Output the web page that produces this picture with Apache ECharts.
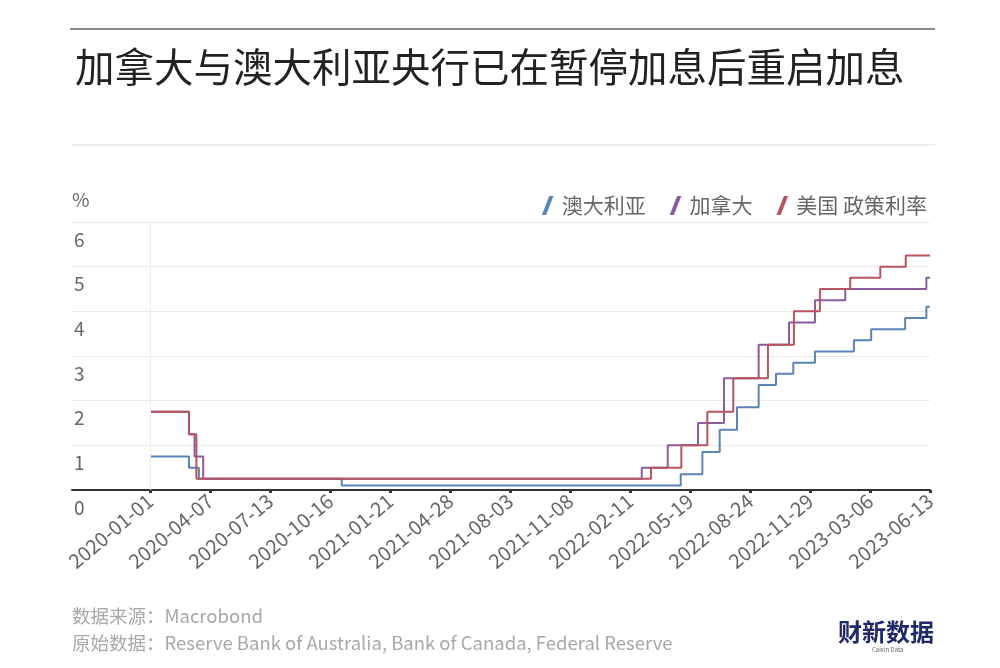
<!DOCTYPE html>
<html>
<head>
<meta charset="utf-8">
<script src="https://cdn.jsdelivr.net/npm/echarts@6/dist/echarts.min.js"></script>
<style>
html,body{margin:0;padding:0;background:#fff;}
#chart{width:1000px;height:668px;}
</style>
</head>
<body>
<div id="chart"></div>
<script>
// ---- data ----
const tickLabels = ['2020-01-01','2020-04-07','2020-07-13','2020-10-16','2021-01-21','2021-04-28','2021-08-03','2021-11-08','2022-02-11','2022-05-19','2022-08-24','2022-11-29','2023-03-06','2023-06-13'];
const yTicks = [0,1,2,3,4,5,6];
const seriesNames = ['澳大利亚','加拿大','美国 政策利率'];

const ausDates  = ['2020-01-01','2020-03-04','2020-03-20','2020-11-04','2022-05-04','2022-06-08','2022-07-06','2022-08-03','2022-09-07','2022-10-05','2022-11-02','2022-12-07','2023-02-08','2023-03-08','2023-05-03','2023-06-07','2023-06-13'];
const ausRates  = [0.75,0.5,0.25,0.1,0.35,0.85,1.35,1.85,2.35,2.6,2.85,3.1,3.35,3.6,3.85,4.1,4.1];

const canDates  = ['2020-01-01','2020-03-04','2020-03-13','2020-03-27','2022-03-02','2022-04-13','2022-06-01','2022-07-13','2022-09-07','2022-10-26','2022-12-07','2023-01-25','2023-06-07','2023-06-13'];
const canRates  = [1.75,1.25,0.75,0.25,0.5,1.0,1.5,2.5,3.25,3.75,4.25,4.5,4.75,4.75];

const usDates   = ['2020-01-01','2020-03-04','2020-03-16','2022-03-17','2022-05-05','2022-06-16','2022-07-28','2022-09-22','2022-11-03','2022-12-15','2023-02-02','2023-03-23','2023-05-04','2023-06-13'];
const usRates   = [1.75,1.25,0.25,0.5,1.0,1.75,2.5,3.25,4.0,4.5,4.75,5.0,5.25,5.25];

const colors = ['#5a83b6','#8a5c9e','#b7545e'];

// ---- map dates onto the tick-index scale ----
const tickTimes = tickLabels.map(d => Date.parse(d));
function dateToPos(d){
  const t = Date.parse(d);
  for (let k = 0; k < tickTimes.length - 1; k++) {
    if (t <= tickTimes[k+1]) return k + (t - tickTimes[k]) / (tickTimes[k+1] - tickTimes[k]);
  }
  return tickTimes.length - 1;
}
function build(dates, rates){ return dates.map((d,i) => [dateToPos(d), rates[i]]); }

const tickIdx = tickLabels.map((_,i) => i);
const legendIcon = 'path://M0,18 L4,18 L11,0 L7,0 Z';

const chart = echarts.init(document.getElementById('chart'), null, {renderer:'canvas'});
const baseFont = '"Noto Sans CJK SC","Noto Sans",sans-serif';

chart.setOption({
  backgroundColor:'#fff',
  animation:false,
  textStyle:{fontFamily:baseFont},
  title:{
    text:'加拿大与澳大利亚央行已在暂停加息后重启加息',
    left:70, top:42,
    textStyle:{fontSize:39.5, fontWeight:'normal', color:'#222', fontFamily:baseFont}
  },
  legend:{
    right:68, top:190,
    itemWidth:12, itemHeight:19, itemGap:24,
    icon:legendIcon,
    textStyle:{fontSize:21, color:'#666', fontFamily:baseFont, padding:[0,0,0,3]},
    data:seriesNames.map(n => ({name:n, icon:legendIcon}))
  },
  grid:{left:72, right:70, top:222, bottom:178, containLabel:false},
  xAxis:{
    type:'value',
    min:-1.3, max:13,
    axisLine:{show:true, lineStyle:{color:'#333', width:2}},
    axisTick:{show:true, customValues:tickIdx, length:3, lineStyle:{color:'#333', width:3}},
    axisLabel:{
      customValues:tickIdx,
      formatter:v => tickLabels[Math.round(v)],
      rotate:40, fontSize:20, color:'#666', margin:8, fontFamily:baseFont
    },
    splitLine:{show:false}
  },
  yAxis:{
    type:'value',
    min:0, max:6, interval:1,
    name:'%', nameLocation:'end', nameGap:13,
    nameTextStyle:{fontSize:19, color:'#666', align:'left', fontFamily:baseFont},
    axisLine:{show:false, onZero:false},
    axisTick:{show:false},
    axisLabel:{
      inside:true, margin:2, verticalAlign:'top', padding:[8,0,0,0],
      fontSize:19, color:'#666', fontFamily:baseFont,
      formatter:v => yTicks.includes(v) ? String(v) : ''
    },
    splitLine:{show:true, lineStyle:{color:'#ebebeb', width:1}}
  },
  series:[
    {
      name:seriesNames[0], type:'line', step:'end', showSymbol:false,
      data:build(ausDates, ausRates),
      lineStyle:{color:colors[0], width:2}, itemStyle:{color:colors[0]},
      markLine:{
        silent:true, symbol:'none', label:{show:false},
        lineStyle:{color:'#ececec', width:1, type:'solid'},
        data:[{xAxis:0}]
      }
    },
    {
      name:seriesNames[1], type:'line', step:'end', showSymbol:false,
      data:build(canDates, canRates),
      lineStyle:{color:colors[1], width:2}, itemStyle:{color:colors[1]}
    },
    {
      name:seriesNames[2], type:'line', step:'end', showSymbol:false,
      data:build(usDates, usRates),
      lineStyle:{color:colors[2], width:2}, itemStyle:{color:colors[2]}
    }
  ],
  graphic:[
    {type:'line', shape:{x1:70, y1:29, x2:935, y2:29}, style:{stroke:'#8a8a8a', lineWidth:2}},
    {type:'line', shape:{x1:72, y1:145, x2:935, y2:145}, style:{stroke:'#f0f0f0', lineWidth:2}},
    {type:'text', left:72, top:607, style:{text:'数据来源：Macrobond', fontSize:18.5, fill:'#a8a8a8', fontFamily:baseFont}},
    {type:'text', left:72, top:634, style:{text:'原始数据：Reserve Bank of Australia, Bank of Canada, Federal Reserve', fontSize:18.5, fill:'#a8a8a8', fontFamily:baseFont}},
    {type:'text', left:838, top:620, style:{text:'财新数据', fontSize:24, fontWeight:'bold', fill:'#1f2a66', fontFamily:baseFont}},
    {type:'text', left:872, top:647, style:{text:'Caixin Data', fontSize:6, fill:'#666', fontFamily:baseFont}}
  ]
});
</script>
</body>
</html>
